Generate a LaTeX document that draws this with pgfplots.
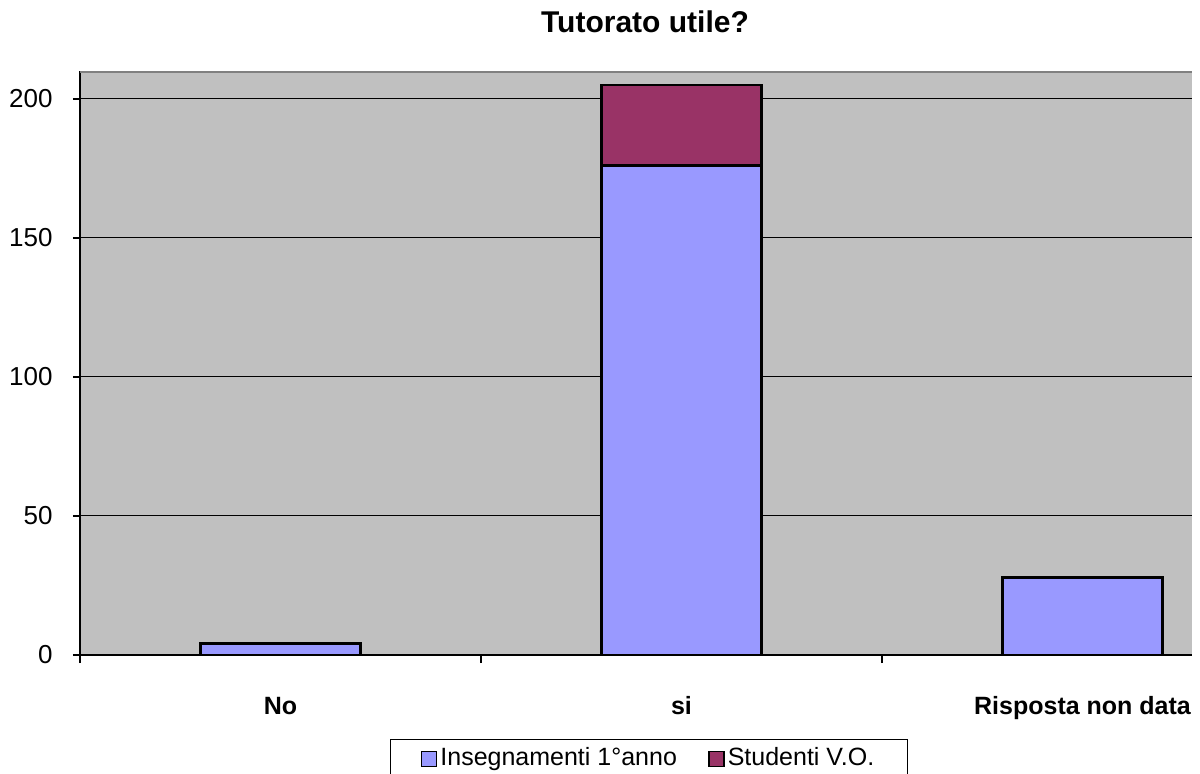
\documentclass[border=0pt]{standalone}
\usepackage{pgfplots}
\pgfplotsset{compat=1.18}
\usepackage{fontspec}
\setmainfont{Liberation Sans}
\definecolor{plotbg}{HTML}{C0C0C0}
\definecolor{plotborder}{HTML}{808080}
\definecolor{ins}{HTML}{9999FF}
\definecolor{stud}{HTML}{993366}
\begin{document}
\begin{tikzpicture}
\begin{axis}[
  at={(0,0)}, anchor=south west,
  scale only axis, width=556pt, height=292pt,
  xmin=-0.5, xmax=2.273, ymin=0, ymax=210,
  ybar stacked, bar width=0.4,
  axis background/.style={fill=plotbg},
  axis x line*=bottom, axis y line*=left,
  x axis line style={-, black, line width=1.2pt},
  y axis line style={-, black, line width=1.2pt},
  xtick={0,1,2}, xticklabels={No,si,Risposta non data},
  major x tick style={draw=none},
  minor xtick={-0.5,0.5,1.5},
  minor x tick style={black, line width=1pt},
  ytick={0,50,100,150,200},
  major y tick style={black, line width=0.8pt},
  tick align=outside,
  major tick length=3.5pt, minor tick length=4pt,
  ymajorgrids, major grid style={black, line width=0.5pt},
  /pgf/number format/assume math mode=true,
  yticklabel style={font=\fontsize{13}{15}\selectfont, inner sep=0pt, xshift=-10pt},
  xticklabel style={font=\bfseries\fontsize{12.5}{15}\selectfont, anchor=base, inner sep=0pt, yshift=-26pt},
  legend style={at={(0.2788,-0.1438)}, anchor=north west, draw=black, line width=0.6pt,
    font=\fontsize{12.5}{14}\selectfont, inner xsep=15pt, inner ysep=2pt,
    nodes={inner xsep=1.5pt},
    /tikz/every even column/.append style={column sep=14pt}},
  legend columns=2,
  legend cell align=left,
  legend image code/.code={\draw[#1, draw=black, line width=0.9pt] (0pt,-4.2pt) rectangle (7.5pt,3.3pt);},
]
\addplot+[fill=ins, draw=black, line width=1.4pt] coordinates {(0,4) (1,176) (2,28)};
\addlegendentry{Insegnamenti 1°anno}
\addplot+[fill=stud, draw=black, line width=1.4pt] coordinates {(0,0) (1,29) (2,0)};
\addlegendentry{Studenti V.O.}
\draw[plotborder, line width=1.5pt] (rel axis cs:0,1) -- (rel axis cs:1,1);
\end{axis}
\node[anchor=base, font=\bfseries\fontsize{15}{18}\selectfont] at (282.5pt,311pt) {Tutorato utile?};
\pgfresetboundingbox
\useasboundingbox (-40pt,-59pt) rectangle (560pt,327.5pt);
\end{tikzpicture}
\end{document}
